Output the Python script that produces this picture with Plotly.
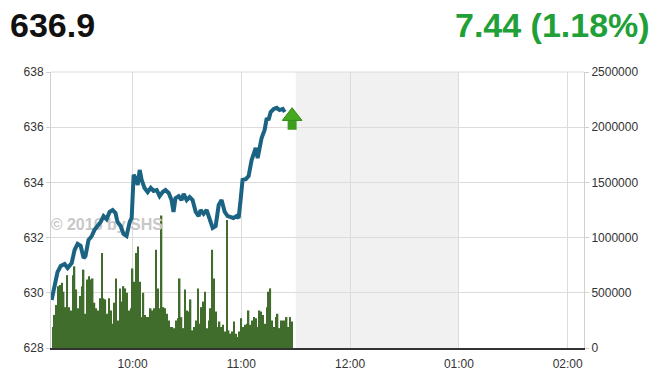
import pandas as pd
import plotly.graph_objects as go

DAY = "2016-08-01"

# Index line (time, price)
PRICE_TIMES = [
    "09:15:20", "09:17:00", "09:18:35", "09:20:20", "09:22:30", "09:24:10", "09:26:25", "09:28:00",
    "09:29:40", "09:31:20", "09:33:00", "09:34:00", "09:35:40", "09:37:25", "09:39:00", "09:40:40",
    "09:42:25", "09:44:00", "09:45:40", "09:47:20", "09:49:00", "09:50:35", "09:51:40", "09:53:25",
    "09:55:00", "09:56:40", "09:58:25", "09:59:30", "10:00:35", "10:01:40", "10:02:50", "10:03:55",
    "10:05:00", "10:06:35", "10:08:20", "10:10:00", "10:11:35", "10:13:20", "10:14:55", "10:16:35",
    "10:18:10", "10:19:55", "10:21:30", "10:22:35", "10:23:40", "10:25:25", "10:27:00", "10:28:10",
    "10:29:50", "10:31:30", "10:33:05", "10:34:50", "10:36:25", "10:37:30", "10:39:10", "10:40:50",
    "10:42:30", "10:44:10", "10:45:50", "10:47:30", "10:49:05", "10:50:50", "10:52:25", "10:54:05",
    "10:55:40", "10:57:25", "10:58:30", "10:59:35", "11:00:40", "11:02:25", "11:04:00", "11:05:40",
    "11:06:50", "11:07:55", "11:09:00", "11:10:05", "11:11:10", "11:12:50", "11:14:00", "11:15:00",
    "11:16:10", "11:17:50", "11:19:30", "11:21:05", "11:22:50", "11:23:55",
]
PRICES = [
    629.74, 630.28, 630.75, 630.97, 631.04, 630.90, 631.08, 631.55,
    631.77, 631.70, 631.26, 631.33, 631.91, 632.05, 632.28, 632.42,
    632.57, 632.78, 632.67, 632.93, 633.00, 632.89, 632.57, 632.42,
    632.13, 632.06, 632.57, 632.71, 634.27, 634.16, 633.91, 634.45,
    634.09, 633.80, 633.65, 633.80, 633.69, 633.72, 633.50, 633.65,
    633.72, 633.62, 633.36, 632.93, 633.43, 633.50, 633.36, 633.58,
    633.36, 633.47, 633.36, 632.93, 632.78, 633.00, 632.86, 633.00,
    632.71, 632.35, 632.42, 633.18, 633.36, 632.93, 632.78, 632.75,
    632.71, 632.78, 632.71, 633.36, 634.09, 634.12, 634.23, 634.81,
    635.10, 635.25, 634.88, 635.36, 635.61, 635.90, 636.33, 636.26,
    636.55, 636.66, 636.70, 636.62, 636.66, 636.55,
]

# Per-minute volume bars starting at 09:16
VOLUME_START = "09:16"
VOLUMES = [
    190000, 300000, 390000, 560000, 570000, 590000, 510000, 370000, 660000, 370000,
    340000, 660000, 740000, 530000, 360000, 470000, 560000, 710000, 310000, 620000,
    650000, 620000, 630000, 410000, 360000, 340000, 450000, 860000, 450000, 440000,
    310000, 450000, 340000, 220000, 410000, 630000, 250000, 540000, 420000, 560000,
    540000, 500000, 340000, 360000, 720000, 600000, 860000, 920000, 600000, 280000,
    500000, 300000, 280000, 280000, 360000, 340000, 360000, 890000, 540000,
    360000, 1200000, 370000, 360000, 310000, 250000,
    190000, 190000, 180000, 250000,
    270000, 630000, 280000, 180000, 530000, 340000, 330000, 440000, 160000, 190000, 250000, 540000,
    220000, 370000, 420000, 510000, 180000, 250000, 360000, 890000, 630000, 330000, 190000, 240000,
    190000, 210000,
    150000, 1160000, 160000, 130000, 150000, 240000, 130000, 100000, 150000,
    270000, 190000, 210000, 220000, 340000, 210000, 250000, 280000, 270000,
    190000, 340000, 330000, 300000, 220000, 370000, 510000, 540000, 250000, 190000,
    280000, 310000, 180000, 250000, 250000,
    250000, 280000, 190000, 280000, 240000,
]

INDEX_VALUE = "636.9"
CHANGE_TEXT = "7.44 (1.18%)"
WATERMARK = "© 2016 by SHS"
WATERMARK_AT = ("09:45:48", 1105000)

X_START, X_END = "09:15", "14:09"
LUNCH_START, LUNCH_END = "11:30", "13:00"
HOUR_TICKS = ["10:00", "11:00", "12:00", "13:00", "14:00"]
HOUR_LABELS = ["10:00", "11:00", "12:00", "01:00", "02:00"]
PRICE_RANGE = [628, 638]
PRICE_TICKS = [628, 630, 632, 634, 636, 638]
VOLUME_RANGE = [0, 2500000]
VOLUME_TICKS = [0, 500000, 1000000, 1500000, 2000000, 2500000]
ARROW_TIME = "11:28"

def ts(t):
    return pd.Timestamp(f"{DAY} {t}")

price_x = [ts(t) for t in PRICE_TIMES]
vol_x = pd.date_range(ts(VOLUME_START), periods=len(VOLUMES), freq="1min")

FONT = "Liberation Sans, Arial, sans-serif"
GRID = "#dcdcdc"

fig = go.Figure()

# watermark (drawn first so marks cover it)
fig.add_trace(go.Scatter(
    x=[ts(WATERMARK_AT[0])], y=[WATERMARK_AT[1]], mode="text",
    text=[f"<b>{WATERMARK}</b>"], textposition="middle center",
    textfont=dict(family=FONT, size=16, color="#c8c8c8"),
    yaxis="y", hoverinfo="skip", showlegend=False,
))

fig.add_trace(go.Bar(
    x=vol_x, y=VOLUMES, yaxis="y",
    marker=dict(color="#406c2c", line=dict(width=0)),
    showlegend=False,
))

fig.add_trace(go.Scatter(
    x=price_x, y=PRICES, yaxis="y2", mode="lines",
    line=dict(color="#1a6383", width=4),
    showlegend=False,
))

last = PRICES[-1]
# green up-arrow marking the latest value
fig.add_trace(go.Scatter(
    x=[ts(ARROW_TIME)], y=[last - 0.48], yaxis="y2", mode="markers",
    marker=dict(symbol="square", size=9, color="#3c9e1c", line=dict(width=0)),
    showlegend=False, hoverinfo="skip",
))
fig.add_trace(go.Scatter(
    x=[ts(ARROW_TIME)], y=[last - 0.15], yaxis="y2", mode="markers",
    marker=dict(symbol="triangle-up", size=17, color="#45a820", line=dict(width=1, color="#2f8a14")),
    showlegend=False, hoverinfo="skip",
))

fig.add_shape(
    type="rect", xref="x", yref="paper",
    x0=ts(LUNCH_START), x1=ts(LUNCH_END), y0=0, y1=1,
    fillcolor="#f1f1f1", line=dict(width=0), layer="below",
)
# top frame line (top gridline of the chart)
fig.add_shape(
    type="line", xref="paper", yref="paper", x0=0, x1=1, y0=1, y1=1,
    line=dict(color=GRID, width=1), layer="below",
)

tickfont = dict(family=FONT, size=12, color="#333333")

fig.update_layout(
    width=660, height=379, autosize=False,
    margin=dict(l=51, r=76, t=72, b=31),
    paper_bgcolor="white", plot_bgcolor="white",
    bargap=0.2,
    xaxis=dict(
        type="date", range=[ts(X_START), ts(X_END)],
        tickvals=[ts(t) for t in HOUR_TICKS], ticktext=HOUR_LABELS,
        showgrid=True, gridcolor=GRID, gridwidth=1,
        showline=True, linecolor="#333333", linewidth=2,
        ticks="", tickfont=tickfont, zeroline=False, ticklabelstandoff=4,
        automargin=False,
    ),
    yaxis=dict(
        side="right", range=VOLUME_RANGE, tickvals=VOLUME_TICKS,
        tickformat="d", showgrid=True, gridcolor=GRID, gridwidth=1,
        showline=True, linecolor="#d0d0d0", linewidth=1,
        ticks="outside", ticklen=4, tickcolor="#d0d0d0",
        tickfont=tickfont, zeroline=False, automargin=False,
    ),
    yaxis2=dict(
        side="left", overlaying="y", range=PRICE_RANGE, tickvals=PRICE_TICKS,
        showgrid=False, showline=True, linecolor="#d0d0d0", linewidth=1,
        ticks="outside", ticklen=4, tickcolor="#d0d0d0",
        tickfont=tickfont, zeroline=False, automargin=False,
    ),
    annotations=[
        dict(xref="paper", yref="paper", x=-0.081, y=1.17, xanchor="left", yanchor="middle",
             text=f"<b>{INDEX_VALUE}</b>", showarrow=False,
             font=dict(family=FONT, size=34, color="#111111")),
        dict(xref="paper", yref="paper", x=1.128, y=1.17, xanchor="right", yanchor="middle",
             text=f"<b>{CHANGE_TEXT}</b>", showarrow=False,
             font=dict(family=FONT, size=34, color="#21a038")),
    ],
    showlegend=False,
)

fig.write_html("out.html", config={"displayModeBar": False})
